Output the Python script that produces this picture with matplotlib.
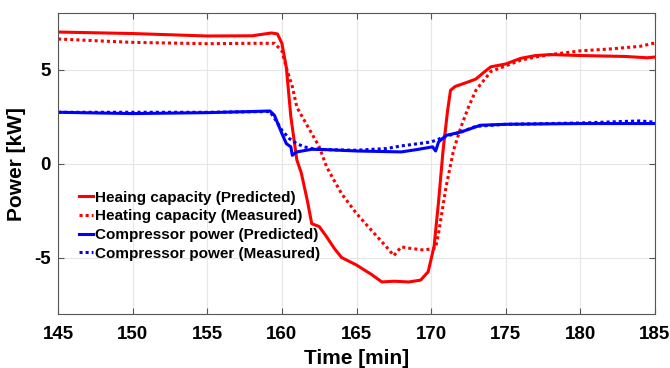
import matplotlib.pyplot as plt

# values (time in min, power in kW)
t_hp = [145, 150, 155, 158, 159.3, 159.7, 160, 160.3, 160.6, 161, 161.3, 161.7, 162, 162.5,
        163, 163.5, 164, 165, 166, 166.7, 167.5, 168.5, 169.3, 169.8, 170.2, 170.5, 170.8,
        171.1, 171.3, 171.6, 172.5, 173, 173.6, 174, 175, 176, 177, 178, 180, 183, 184.5, 185]
heat_pred = [7.0, 6.92, 6.79, 6.8, 6.95, 6.9, 6.4, 5.1, 2.5, 0.2, -0.5, -1.95, -3.2, -3.35,
             -3.9, -4.5, -5.0, -5.4, -5.9, -6.3, -6.26, -6.3, -6.2, -5.76, -4.4, -2.0, 0.7,
             2.8, 3.9, 4.1, 4.35, 4.5, 4.9, 5.15, 5.3, 5.6, 5.75, 5.8, 5.75, 5.7, 5.63, 5.67]

t_hm = [145, 148, 150, 155, 158, 159.5, 160, 160.3, 160.7, 161, 161.5, 162, 162.5, 163, 163.5,
        164, 165, 166, 167, 167.5, 168, 168.5, 169.5, 170.3, 170.5, 171, 171.5, 172, 172.5,
        173, 173.5, 174, 175, 176, 177, 178, 179, 180, 182, 184, 185]
heat_meas = [6.63, 6.52, 6.45, 6.38, 6.4, 6.4, 6.0, 5.1, 4.1, 3.0, 2.3, 1.6, 0.9, -0.18, -0.9,
             -1.6, -2.66, -3.55, -4.43, -4.9, -4.43, -4.5, -4.6, -4.5, -3.7, -1.24, 0.7, 1.95,
             3.0, 3.9, 4.4, 4.9, 5.2, 5.5, 5.67, 5.8, 5.9, 6.0, 6.1, 6.24, 6.42]

t_cp = [145, 150, 155, 158, 159.2, 159.5, 160, 160.3, 160.6, 160.7, 161, 162, 163, 165, 168,
        169, 170.1, 170.3, 170.5, 171, 172, 172.8, 173.3, 175, 180, 185]
comp_pred = [2.73, 2.66, 2.71, 2.77, 2.8, 2.57, 1.6, 1.06, 0.89, 0.44, 0.62, 0.76, 0.74, 0.67,
             0.62, 0.74, 0.89, 0.67, 1.15, 1.5, 1.68, 1.9, 2.04, 2.09, 2.13, 2.13]

t_cm = [145, 155, 159.2, 159.6, 160, 160.5, 161, 161.5, 162, 163, 165, 167, 168, 170, 171,
        172, 173, 175, 180, 184, 185]
comp_meas = [2.73, 2.73, 2.77, 2.3, 1.77, 1.33, 1.06, 0.89, 0.8, 0.74, 0.71, 0.8, 0.94, 1.15,
             1.45, 1.68, 1.98, 2.09, 2.16, 2.27, 2.2]

labels = ['Heaing capacity (Predicted)', 'Heating capacity (Measured)',
          'Compressor power (Predicted)', 'Compressor power (Measured)']

plt.rcParams['font.family'] = ['Liberation Sans', 'DejaVu Sans']
plt.rcParams['font.weight'] = 'bold'
plt.rcParams['axes.unicode_minus'] = False

fig = plt.figure(figsize=(6.7, 3.68), dpi=100)
ax = fig.add_axes([0.0866, 0.147, 0.891, 0.817])

ax.plot(t_hp, heat_pred, color='#ff0000', lw=2.2, ls='-', label=labels[0])
ax.plot(t_hm, heat_meas, color='#ff0000', lw=2.2, ls=(0, (1, 1)), label=labels[1])
ax.plot(t_cp, comp_pred, color='#0000ff', lw=2.2, ls='-', label=labels[2])
ax.plot(t_cm, comp_meas, color='#0000ff', lw=2.2, ls=(0, (1, 1)), label=labels[3])

ax.set_xlim(145, 185)
ax.set_ylim(-8, 8)
ax.set_xticks(range(145, 186, 5))
ax.set_yticks([-5, 0, 5])
ax.grid(True, color='#e6e6e6', lw=0.8)
ax.tick_params(direction='in', top=True, right=True, length=4, color='#555555',
               labelsize=13.5)
ax.tick_params(axis='x', pad=9)
ax.tick_params(axis='y', pad=5)
for lab in ax.get_xticklabels() + ax.get_yticklabels():
    lab.set_fontweight('bold')
for s in ax.spines.values():
    s.set_color('#555555')
    s.set_linewidth(0.8)

ax.set_xlabel('Time [min]', fontsize=15, fontweight='bold', labelpad=4)
ax.set_ylabel('Power [kW]', fontsize=15, fontweight='bold', labelpad=6)

leg = ax.legend(loc='upper left', bbox_to_anchor=(0.02, 0.44), frameon=False,
                fontsize=11, handlelength=0.9, handletextpad=0.15, labelspacing=0.3,
                borderaxespad=0.3, borderpad=0.3)
for txt in leg.get_texts():
    txt.set_fontweight('bold')

fig.savefig('out.png', dpi=100)
